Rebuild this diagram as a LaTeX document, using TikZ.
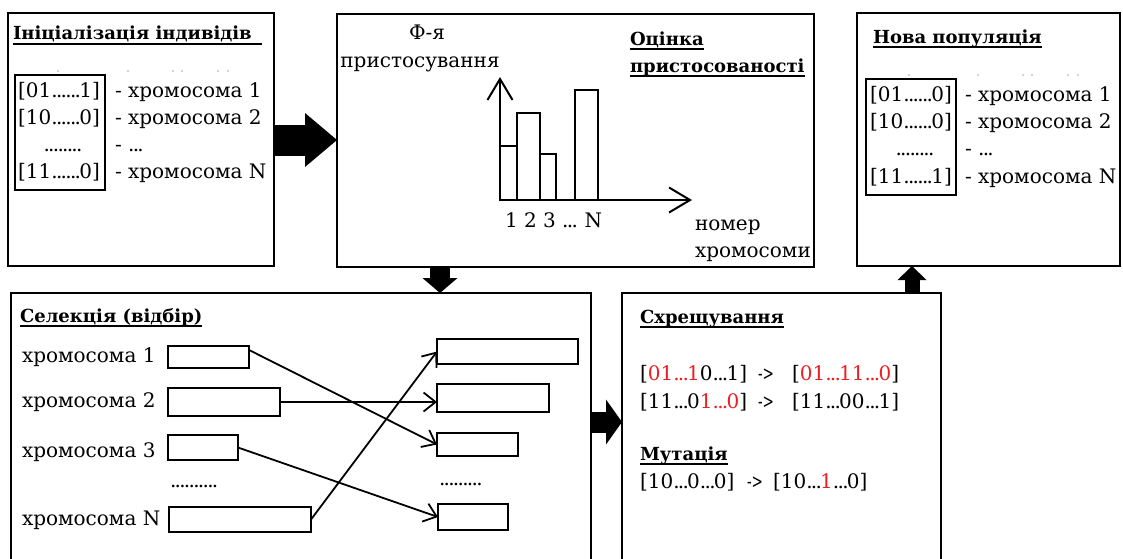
\documentclass[tikz,border=0pt]{standalone}
\usepackage{fontspec}
\setmainfont{DejaVu Serif}
\usetikzlibrary{arrows.meta,calc}
\definecolor{hl}{RGB}{235,30,34}
\newcommand{\hl}[1]{\textcolor{hl}{#1}}
% a tighter ellipsis built from kerned full stops
\newcommand{\el}{.\kern-1.7pt.\kern-1.7pt.\kern-1.7pt}
% a narrower "->"
\newcommand{\goesto}{\scalebox{0.68}[1]{->}}

\begin{document}
\begin{tikzpicture}[x=1pt,y=-1pt,
  bigbox/.style={draw, line width=2pt, inner sep=0pt, outer sep=0pt, anchor=north west},
  innerbox/.style={draw, line width=2.6pt, inner sep=0pt, outer sep=0pt, anchor=north west},
  slot/.style={draw, line width=2pt, inner sep=0pt, outer sep=0pt, anchor=north west},
  txt/.style={inner sep=0pt, outer sep=0pt, anchor=base west, font=\fontsize{20}{24}\selectfont},
  ctxt/.style={txt, anchor=base},
  ttl/.style={inner sep=0pt, outer sep=0pt, anchor=base west, font=\fontsize{18}{22}\selectfont\bfseries},
  uline/.style={line width=1.5pt},
  blockarrow/.style n args={3}{draw=black, line width=#1,
    -{Triangle[length=#2, width=#3, line width=0pt]}},
  pick/.style={line width=1.8pt, -{Straight Barb[length=12pt,width=19pt]}},
  axis/.style={line width=2pt, -{Straight Barb[length=21pt,width=25pt]}},
  bar/.style={draw, line width=2pt},
  speck/.style={fill=black!35}
]
\useasboundingbox (0,0) rectangle (1123,558);
\clip (0,0) rectangle (1123,558);

% ---------- main stage boxes ----------
\node[bigbox, minimum width=266, minimum height=253] (b1) at (8,13) {};
\node[bigbox, minimum width=477, minimum height=253] (b2) at (337,14) {};
\node[bigbox, minimum width=263, minimum height=253] (b3) at (857,13) {};
\node[bigbox, minimum width=580, minimum height=300] (b4) at (11,293) {};
\node[bigbox, minimum width=319, minimum height=300] (b5) at (622,293) {};

% ---------- block arrows between stages ----------
\coordinate (a1) at (0,140);
\coordinate (a2) at (440,0);
\coordinate (a3) at (0,422);
\coordinate (a4) at (912,0);
\draw[blockarrow={31pt}{32pt}{54pt}] (b1.east |- a1) -- (b2.west |- a1);
\draw[blockarrow={20pt}{15pt}{35pt}] (b2.south -| a2) -- (b4.north -| a2);
\draw[blockarrow={21pt}{16pt}{45pt}] (b4.east |- a3) -- (b5.west |- a3);
\draw[blockarrow={15pt}{14pt}{29pt}] (b5.north -| a4) -- (b3.south -| a4);

% ---------- initialisation ----------
\node[ttl] (t1) at (13,39) {Ініціалізація індивідів};
\draw[uline] ([yshift=-5pt]t1.base west) -- ([yshift=-5pt,xshift=10pt]t1.base east);
\foreach \x in {58,128,173,182,218,228}
  \fill[speck] (\x,71) circle (0.8);
\node[innerbox, minimum width=90, minimum height=115] (c1) at (15,75) {};
\node[ctxt] (c1r1) at (59,97) {[01\el\el1]};
\node[ctxt] (c1r2) at (59,124) {[10\el\el0]};
\node[ctxt] (c1r3) at (63,151) {\el\el.\kern-1.7pt.};
\node[ctxt] (c1r4) at (59,178) {[11\el\el0]};
\node[txt] (l1r1) at (115,97) {- хромосома 1};
\node[txt] (l1r2) at (115,124) {- хромосома 2};
\node[txt] (l1r3) at (115,151) {- \el};
\node[txt] (l1r4) at (115,178) {- хромосома N};

% ---------- fitness evaluation ----------
\node[ctxt] (fy) at (427,39) {Ф-я};
\node[ctxt] (fp) at (420,67) {пристосування};
\node[ttl] (t2a) at (630,45) {Оцінка};
\node[ttl] (t2b) at (630,72) {пристосованості};
\draw[uline] ([yshift=-4pt]t2a.base west) -- ([yshift=-4pt]t2a.base east);
\draw[uline] ([yshift=-4pt]t2b.base west) -- ([yshift=-4pt]t2b.base east);
\draw[bar] (500,200) rectangle (517,146);
\draw[bar] (517,200) rectangle (540,113);
\draw[bar] (540,200) rectangle (556,154);
\draw[bar] (575,200) rectangle (598,90);
\draw[axis] (500,200) -- (500,77);
\draw[axis] (500,200) -- (692,200);
\node[txt] (xn) at (505,227) {1 2 3 \el{} N};
\node[txt] (nm) at (695,230) {номер};
\node[txt] (hr) at (695,257) {хромосоми};

% ---------- new population ----------
\node[ttl] (t3) at (873,43) {Нова популяція};
\draw[uline] ([yshift=-4pt]t3.base west) -- ([yshift=-4pt]t3.base east);
\foreach \x in {909,978,1023,1032,1068,1078}
  \fill[speck] (\x,75) circle (0.8);
\node[innerbox, minimum width=90, minimum height=116] (c3) at (866,79) {};
\node[ctxt] (c3r1) at (911,101) {[01\el\el0]};
\node[ctxt] (c3r2) at (911,128) {[10\el\el0]};
\node[ctxt] (c3r3) at (915,155) {\el\el.\kern-1.7pt.};
\node[ctxt] (c3r4) at (911,183) {[11\el\el1]};
\node[txt] (l3r1) at (965,101) {- хромосома 1};
\node[txt] (l3r2) at (965,128) {- хромосома 2};
\node[txt] (l3r3) at (965,155) {- \el};
\node[txt] (l3r4) at (965,183) {- хромосома N};

% ---------- selection ----------
\node[ttl] (t4) at (20,322) {Селекція (відбір)};
\draw[uline] ([yshift=-4pt]t4.base west) -- ([yshift=-4pt]t4.base east);
\node[txt] (s1) at (22,362) {хромосома 1};
\node[txt] (s2) at (22,407) {хромосома 2};
\node[txt] (s3) at (22,457) {хромосома 3};
\node[txt] (sn) at (22,525) {хромосома N};
\node[slot, minimum width=81,  minimum height=22] (L1) at (168,346) {};
\node[slot, minimum width=112, minimum height=28] (L2) at (168,388) {};
\node[slot, minimum width=70,  minimum height=25] (L3) at (168,435) {};
\node[slot, minimum width=142, minimum height=25] (LN) at (169,507) {};
\node[txt] (ld) at (170,487) {\el\el\el.};
\node[slot, minimum width=141, minimum height=25] (R1) at (437,339) {};
\node[slot, minimum width=112, minimum height=28] (R2) at (437,384) {};
\node[slot, minimum width=81,  minimum height=23] (R3) at (437,433) {};
\node[slot, minimum width=70,  minimum height=26] (RN) at (438,504) {};
\node[txt] (rd) at (439,485) {\el\el\el};
\draw[pick] ($(L1.north east)!0.18!(L1.south east)$) -- (R3.west);
\draw[pick] (L2.east) -- (L2.east -| R2.west);
\draw[pick] (L3.east) -- (RN.west);
\draw[pick] (LN.east) -- (R1.west);

% ---------- crossover and mutation ----------
\node[ttl] (t5) at (640,323) {Схрещування};
\draw[uline] ([yshift=-4pt]t5.base west) -- ([yshift=-4pt]t5.base east);
\node[txt] (x1a) at (640,380) {[\hl{01\el1}0\el1]};
\node[txt] (x1b) at (758,380) {\goesto};
\node[txt] (x1c) at (792,380) {[\hl{01\el11\el0}]};
\node[txt] (x2a) at (640,408) {[11\el0\hl{1\el0}]};
\node[txt] (x2b) at (758,408) {\goesto};
\node[txt] (x2c) at (792,408) {[11\el00\el1]};
\node[ttl] (t6) at (640,460) {Мутація};
\draw[uline] ([yshift=-4pt]t6.base west) -- ([yshift=-4pt]t6.base east);
\node[txt] (m1a) at (640,488) {[10\el0\el0]};
\node[txt] (m1b) at (747,488) {\goesto};
\node[txt] (m1c) at (773,488) {[10\el\hl{1}\el0]};
\end{tikzpicture}
\end{document}
